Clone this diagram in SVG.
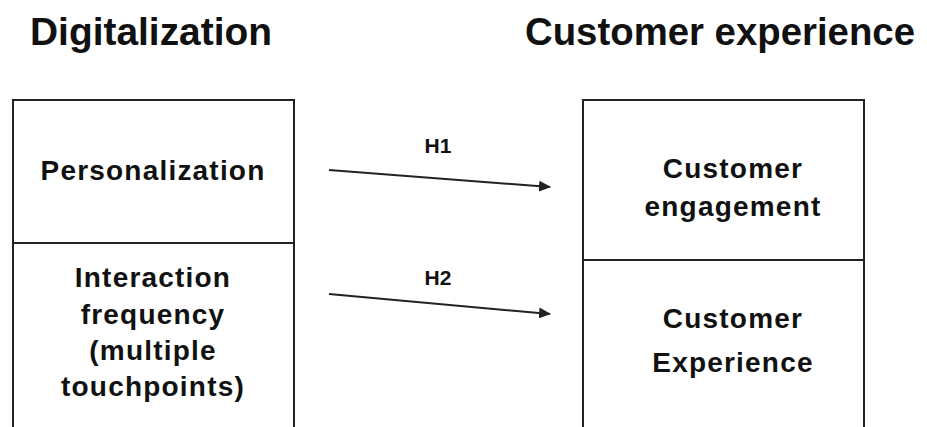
<svg xmlns="http://www.w3.org/2000/svg" width="927" height="427" viewBox="0 0 927 427">
<style>
text{font-family:"Liberation Sans",Arial,sans-serif;font-weight:bold;fill:#111;text-anchor:middle}
.t{font-size:39px}
.n{font-size:28px;letter-spacing:1.2px}
.h{font-size:21px}
.box{fill:none;stroke:#222;stroke-width:2}
.c{stroke:#222;stroke-width:2;fill:none}
</style>
<defs>
<marker id="ah" markerWidth="12" markerHeight="12" refX="11" refY="6" orient="auto" markerUnits="userSpaceOnUse">
<path d="M0,0.5 L12,6 L0,11.5 Z" fill="#222"/>
</marker>
</defs>
<g id="title-left"><text class="t" x="151" y="45" textLength="242" lengthAdjust="spacingAndGlyphs">Digitalization</text></g>
<g id="title-right"><text class="t" x="720" y="45" textLength="390" lengthAdjust="spacingAndGlyphs">Customer experience</text></g>
<g id="personalization">
<path class="box" d="M13,430 V100 H294 V430"/>
<text class="n" x="153" y="180">Personalization</text>
</g>
<g id="interaction">
<line class="box" x1="13" y1="243" x2="294" y2="243"/>
<text class="n" x="153" y="287">Interaction</text>
<text class="n" x="153" y="324">frequency</text>
<text class="n" x="153" y="360">(multiple</text>
<text class="n" x="153" y="396">touchpoints)</text>
</g>
<g id="engagement">
<path class="box" d="M583,430 V100 H864 V430"/>
<text class="n" x="733" y="178">Customer</text>
<text class="n" x="733" y="216">engagement</text>
</g>
<g id="experience">
<line class="box" x1="583" y1="260" x2="864" y2="260"/>
<text class="n" x="733" y="328">Customer</text>
<text class="n" x="733" y="372">Experience</text>
</g>
<g id="connectors">
<line class="c" x1="329" y1="170" x2="550" y2="187" marker-end="url(#ah)"/>
<text class="h" x="438" y="153">H1</text>
<line class="c" x1="329" y1="294" x2="550" y2="314" marker-end="url(#ah)"/>
<text class="h" x="438" y="285">H2</text>
</g>
</svg>
